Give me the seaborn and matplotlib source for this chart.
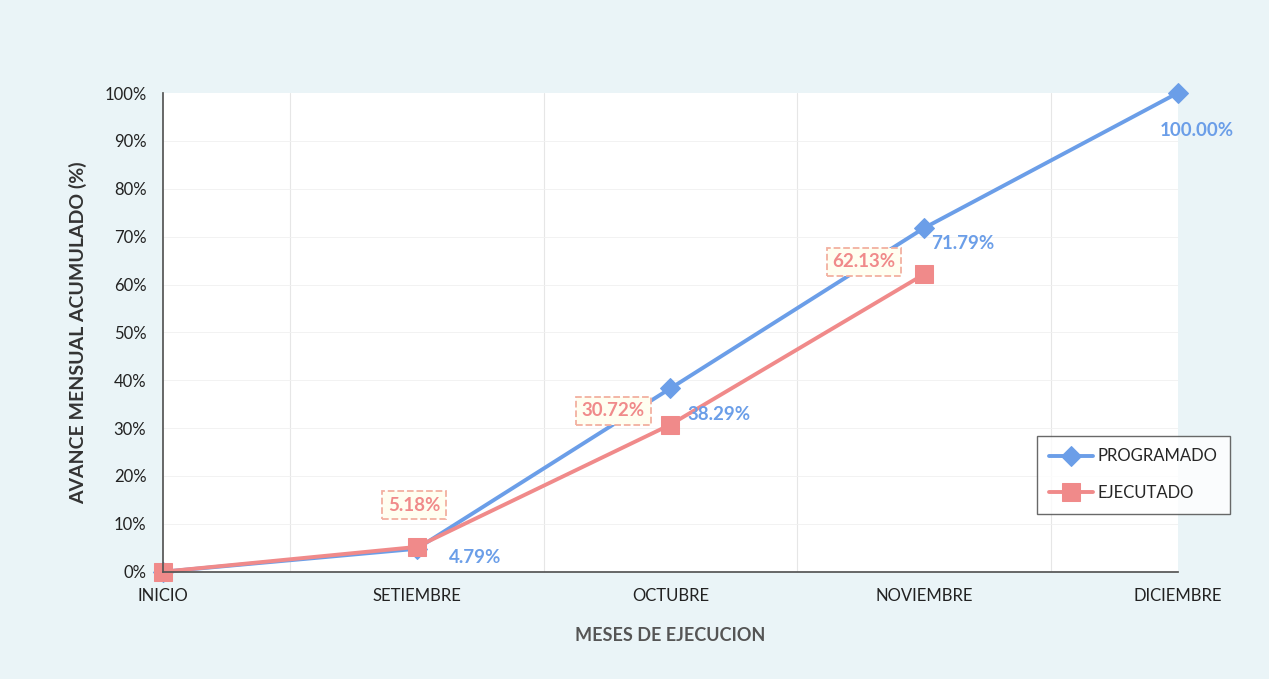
import matplotlib.pyplot as plt
import pandas as pd
import seaborn as sns
from matplotlib.ticker import PercentFormatter

# data
meses = ['INICIO', 'SETIEMBRE', 'OCTUBRE', 'NOVIEMBRE', 'DICIEMBRE']
programado = [0.0, 4.79, 38.29, 71.79, 100.00]
ejecutado = [0.0, 5.18, 30.72, 62.13]

df_prog = pd.DataFrame({'x': range(len(programado)), 'valor': programado})
df_ejec = pd.DataFrame({'x': range(len(ejecutado)), 'valor': ejecutado})

sns.set_theme(style='white')
plt.rcParams['font.family'] = ['Lato', 'DejaVu Sans']

azul = '#6b9ee8'
rojo = '#f08a8a'

fig = plt.figure(figsize=(12.69, 6.79), dpi=100)
fig.patch.set_facecolor('#eaf4f7')
ax = fig.add_axes([0.1285, 0.158, 0.7995, 0.705])
ax.set_facecolor('white')

sns.lineplot(data=df_prog, x='x', y='valor', ax=ax, color=azul, lw=2.8,
             marker='D', markersize=10, markeredgecolor=azul, label='PROGRAMADO', clip_on=False)
sns.lineplot(data=df_ejec, x='x', y='valor', ax=ax, color=rojo, lw=2.8,
             marker='s', markersize=13, markeredgecolor=rojo, label='EJECUTADO', clip_on=False)

ax.set_xlim(0, len(meses) - 1)
ax.set_ylim(0, 100)
ax.set_yticks(range(0, 101, 10))
ax.yaxis.set_major_formatter(PercentFormatter(decimals=0))
ax.set_xticks(range(len(meses)))
ax.set_xticklabels(meses)
ax.tick_params(axis='both', labelsize=12, colors='#222222', pad=6)

# faint grid like the original
for v in [0.5, 1.5, 2.5, 3.5]:
    ax.axvline(v, color='#e6e6e6', lw=0.8, zorder=0)
for v in range(10, 100, 10):
    ax.axhline(v, color='#f0f0f0', lw=0.6, zorder=0)

for s in ['top', 'right']:
    ax.spines[s].set_visible(False)
ax.spines['left'].set_color('#555555')
ax.spines['bottom'].set_color('#555555')

ax.set_xlabel('MESES DE EJECUCION', fontsize=13, fontweight='bold', color='#555555', labelpad=16)
ax.set_ylabel('AVANCE MENSUAL ACUMULADO (%)', fontsize=14, fontweight='bold', color='#333333', labelpad=12)

# labels
off_prog = [None, (42, -6.5), (35, -19), (28, -11), (14, -27)]
for i, v in enumerate(programado):
    if off_prog[i] is None:
        continue
    ax.annotate(f'{v:.2f}%', (i, v), xytext=off_prog[i], textcoords='offset points',
                ha='center', va='center', fontsize=13.5, fontweight='bold', color=azul)

off_ejec = [None, (-2, 30), (-41, 10), (-43, 9)]
for i, v in enumerate(ejecutado):
    if off_ejec[i] is None:
        continue
    ax.annotate(f'{v:.2f}%', (i, v), xytext=off_ejec[i], textcoords='offset points',
                ha='center', va='center', fontsize=13.5, fontweight='bold', color=rojo,
                bbox=dict(boxstyle='square,pad=0.3', fc='#fffef0', ec='#f2b0a0', lw=1.3, ls='--'))

leg = ax.legend(loc='upper left', bbox_to_anchor=(0.853, 0.301), fontsize=12, frameon=True,
                fancybox=False, edgecolor='#444444', handlelength=2.6, handletextpad=0.3,
                labelspacing=1.25, borderpad=0.75)
leg.get_frame().set_linewidth(1.0)

fig.savefig('out.png', dpi=100, facecolor=fig.get_facecolor())
